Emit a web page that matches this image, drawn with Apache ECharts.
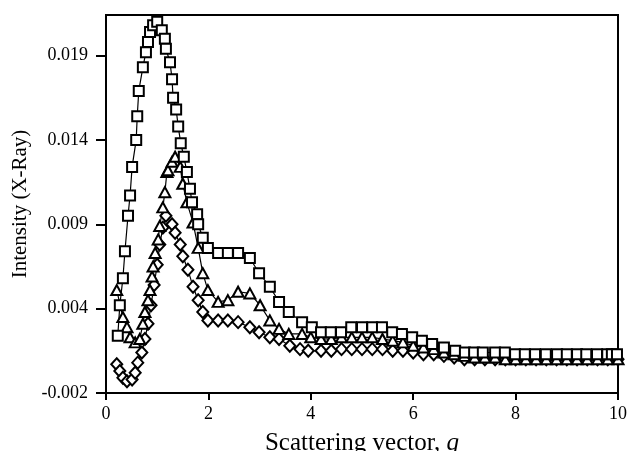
<!DOCTYPE html>
<html><head><meta charset="utf-8">
<script src="https://cdn.jsdelivr.net/npm/echarts@6/dist/echarts.min.js"></script>
<style>html,body{margin:0;padding:0;background:#fff}#c{width:630px;height:451px}</style>
</head><body><div id="c"></div>
<script>
// Squares series
var sqQ = [0.23,0.27,0.33,0.37,0.43,0.47,0.51,0.59,0.61,0.64,0.72,0.78,0.82,0.86,0.92,1.00,1.09,1.15,1.17,1.25,1.29,1.31,1.37,1.41,1.46,1.52,1.58,1.64,1.68,1.78,1.80,1.89,1.99,2.19,2.38,2.58,2.81,2.99,3.20,3.38,3.57,3.83,4.02,4.20,4.39,4.59,4.79,5.00,5.20,5.39,5.59,5.78,5.98,6.17,6.37,6.60,6.82,7.01,7.19,7.36,7.60,7.79,7.99,8.18,8.38,8.59,8.81,9.00,9.20,9.38,9.59,9.79,9.88,9.98];
var sqV = [0.0019,0.0037,0.0053,0.0069,0.0090,0.0102,0.0119,0.0135,0.0149,0.0164,0.0178,0.0187,0.0193,0.0199,0.0203,0.0205,0.0200,0.0195,0.0189,0.0181,0.0171,0.0160,0.0153,0.0143,0.0133,0.0125,0.0116,0.0106,0.0098,0.0091,0.0085,0.0077,0.0071,0.0068,0.0068,0.0068,0.0065,0.0056,0.0048,0.0039,0.0033,0.0027,0.0024,0.0021,0.0021,0.0021,0.0024,0.0024,0.0024,0.0024,0.0021,0.0020,0.0018,0.0016,0.0014,0.0012,0.0010,0.0009,0.0009,0.0009,0.0009,0.0009,0.0008,0.0008,0.0008,0.0008,0.0008,0.0008,0.0008,0.0008,0.0008,0.0008,0.0008,0.0008];
// Triangles series
var triQ = [0.21,0.33,0.41,0.47,0.57,0.66,0.72,0.76,0.82,0.86,0.90,0.92,0.96,1.02,1.05,1.11,1.15,1.19,1.21,1.29,1.35,1.45,1.50,1.58,1.70,1.80,1.89,1.99,2.19,2.38,2.58,2.81,3.01,3.20,3.38,3.57,3.83,4.0,4.2,4.4,4.6,4.8,5.0,5.2,5.4,5.6,5.8,6.0,6.2,6.4,6.6,6.8,7.0,7.2,7.4,7.6,7.8,8.0,8.2,8.4,8.6,8.8,9.0,9.2,9.4,9.6,9.8,10.0];
var triV = [0.0046,0.0030,0.0024,0.0018,0.0015,0.0017,0.0026,0.0033,0.0040,0.0046,0.0054,0.0060,0.0068,0.0076,0.0084,0.0095,0.0104,0.0116,0.0117,0.0122,0.0125,0.0119,0.0109,0.0098,0.0086,0.0071,0.0056,0.0046,0.0039,0.0040,0.0045,0.0044,0.0037,0.0028,0.0023,0.0020,0.0020,0.0018,0.0017,0.0017,0.0018,0.0018,0.0018,0.0018,0.0017,0.0016,0.0015,0.0013,0.0012,0.0011,0.0009,0.0008,0.0007,0.0006,0.0006,0.0006,0.0005,0.0005,0.0005,0.0005,0.0005,0.0005,0.0005,0.0005,0.0005,0.0005,0.0005,0.0005];
// Diamonds series
var diaQ = [0.21,0.27,0.33,0.41,0.51,0.57,0.62,0.70,0.76,0.82,0.88,0.94,1.00,1.05,1.11,1.17,1.29,1.35,1.45,1.50,1.60,1.70,1.80,1.89,1.99,2.19,2.38,2.58,2.81,2.99,3.20,3.38,3.59,3.79,3.95,4.2,4.4,4.6,4.8,5.0,5.2,5.4,5.6,5.8,6.0,6.2,6.4,6.6,6.8,7.0,7.2,7.4,7.6,7.8,8.0,8.2,8.4,8.6,8.8,9.0,9.2,9.4,9.6,9.8,10.0];
var diaV = [0.0002,-0.0002,-0.0006,-0.0008,-0.0007,-0.0003,0.0003,0.0009,0.0017,0.0026,0.0037,0.0049,0.0061,0.0073,0.0083,0.0090,0.0085,0.0080,0.0073,0.0066,0.0058,0.0048,0.0040,0.0033,0.0028,0.0028,0.0028,0.0027,0.0024,0.0021,0.0018,0.0017,0.0013,0.0011,0.0010,0.0010,0.0010,0.0011,0.0011,0.0011,0.0011,0.0011,0.0010,0.0010,0.0009,0.0008,0.0008,0.0007,0.0006,0.0005,0.0005,0.0005,0.0005,0.0005,0.0005,0.0005,0.0005,0.0005,0.0005,0.0005,0.0005,0.0005,0.0005,0.0005,0.0005];
// Axis ticks: the y tick positions and their printed (rounded) labels
var xTicks = [0,2,4,6,8,10];
var yTickPos = [-0.0015,0.0035,0.0085,0.0135,0.0185];
var yTickLabels = ["-0.002","0.004","0.009","0.014","0.019"];

function pairs(q, v){ return q.map(function(x,i){ return [x, v[i]]; }); }
var font = "Liberation Serif";
var mk = function(name, sym, size, q, v){
  return {name:name, type:'line', data:pairs(q,v), symbol:sym, symbolSize:size, showAllSymbol:true,
    lineStyle:{color:'#000', width:1.2}, itemStyle:{color:'#fff', borderColor:'#000', borderWidth:2},
    animation:false, z:2};
};
var chart = echarts.init(document.getElementById('c'));
chart.setOption({
  backgroundColor:'#fff',
  animation:false,
  grid:{left:106, right:12, top:15, bottom:58, outerBoundsMode:'none', containLabel:false, show:true, borderColor:'#000', borderWidth:2, backgroundColor:'transparent'},
  xAxis:{type:'value', min:0, max:10, interval:2,
    name:'{n|Scattering vector, }{q|q}', nameLocation:'middle', nameGap:38,
    nameTextStyle:{rich:{n:{fontFamily:font, fontSize:25, color:'#000'}, q:{fontFamily:font, fontSize:25, fontStyle:'italic', color:'#000'}}},
    axisLine:{onZero:false, lineStyle:{color:'#000', width:2}},
    axisTick:{inside:false, length:7, lineStyle:{color:'#000', width:2}, customValues:xTicks},
    axisLabel:{fontFamily:font, fontSize:18, color:'#000', margin:12, customValues:xTicks},
    splitLine:{show:false}},
  yAxis:{type:'value', min:-0.0015, max:0.0209,
    name:'Intensity (X-Ray)', nameLocation:'middle', nameGap:74,
    nameTextStyle:{fontFamily:font, fontSize:21, color:'#000'},
    axisLine:{onZero:false, lineStyle:{color:'#000', width:2}},
    axisTick:{inside:false, length:10, lineStyle:{color:'#000', width:2}, customValues:yTickPos},
    axisLabel:{fontFamily:font, fontSize:18, color:'#000', margin:18, customValues:yTickPos,
      formatter:function(v){ var best=0; for(var i=1;i<yTickPos.length;i++){ if(Math.abs(yTickPos[i]-v)<Math.abs(yTickPos[best]-v)) best=i; } return yTickLabels[best]; }},
    splitLine:{show:false}},
  series:[
    mk('Diamond','diamond',[11,12],diaQ,diaV),
    mk('Triangle','triangle',[11,10],triQ,triV),
    mk('Square','rect',[10,10],sqQ,sqV)
  ]
});
</script></body></html>
